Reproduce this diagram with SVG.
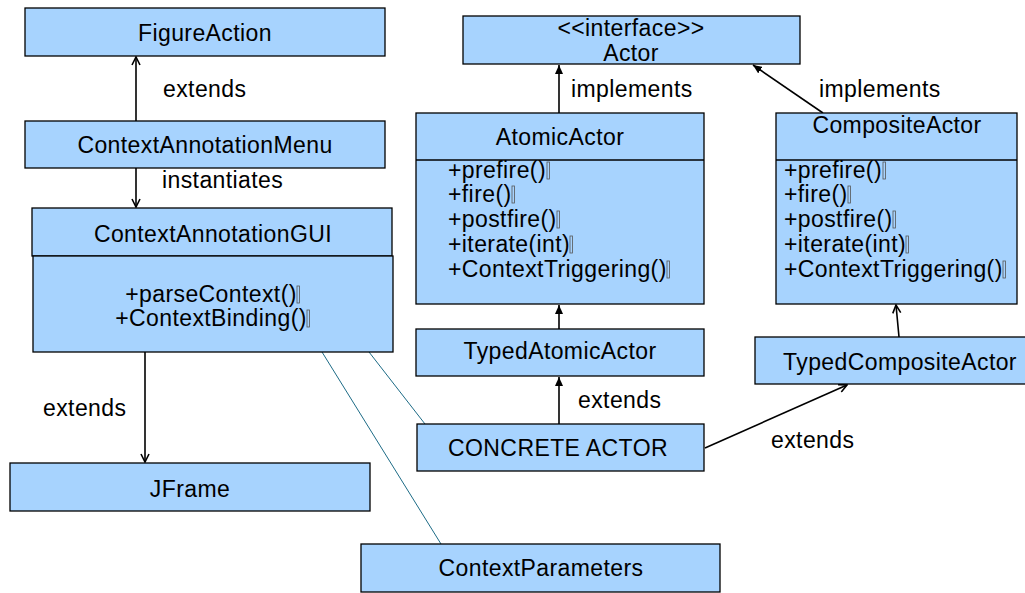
<svg xmlns="http://www.w3.org/2000/svg" width="1025" height="593" viewBox="0 0 1025 593">
  <style>
    .box { fill: #a7d3fe; stroke: #000; stroke-width: 1.3; }
    .sep { stroke: #000; stroke-width: 1.3; fill: none; }
    text { font-family: "Liberation Sans", Arial, sans-serif; font-size: 23px; letter-spacing: 0.4px; fill: #000; }
    .c { text-anchor: middle; }
    .bar { fill: none; stroke: #555; stroke-width: 0.8; }
    .edge { stroke: #000; stroke-width: 1.6; fill: none; }
    .open { marker-end: url(#open); }
    .solid { marker-end: url(#solid); }
    .note { stroke: #1d6b86; stroke-width: 1; fill: none; }
  </style>
  <defs>
    <marker id="open" viewBox="0 0 10 10" refX="9" refY="5" markerWidth="10" markerHeight="10" markerUnits="userSpaceOnUse" orient="auto">
      <path d="M1,1 L9,5 L1,9" fill="none" stroke="#000" stroke-width="1.6"/>
    </marker>
    <marker id="solid" viewBox="0 0 9 8" refX="9" refY="4" markerWidth="9" markerHeight="8" markerUnits="userSpaceOnUse" orient="auto">
      <path d="M0,0 L9,4 L0,8 z" fill="#000"/>
    </marker>
  </defs>

  <!-- connectors -->
  <g id="connectors">
    <path class="edge open" d="M136,121 L136,57"/>
    <path class="edge open" d="M136,168 L136,207"/>
    <path class="edge open" d="M145,352 L145,462"/>
    <path class="edge solid" d="M559,113 L559,65"/>
    <path class="edge solid" d="M823,113 L753,65"/>
    <path class="edge solid" d="M559,329 L559,305"/>
    <path class="edge open" d="M899,337 L896,305"/>
    <path class="edge solid" d="M559,424 L559,377"/>
    <path class="edge open" d="M705,448 L847,385"/>
    <path class="note" d="M322,352 L441,544"/>
    <path class="note" d="M369,352 L425,424"/>
    <text x="163" y="97">extends</text>
    <text x="162" y="188">instantiates</text>
    <text x="571" y="97">implements</text>
    <text x="819" y="97">implements</text>
    <text x="43" y="416">extends</text>
    <text x="578" y="408">extends</text>
    <text x="771" y="448">extends</text>
  </g>

  <g id="FigureAction">
    <rect class="box" x="25" y="8" width="360" height="48"/>
    <text class="c" x="205" y="41">FigureAction</text>
  </g>

  <g id="ContextAnnotationMenu">
    <rect class="box" x="25" y="121" width="360" height="47"/>
    <text class="c" x="205" y="153">ContextAnnotationMenu</text>
  </g>

  <g id="ContextAnnotationGUI">
    <rect class="box" x="32" y="208" width="360" height="48"/>
    <rect class="box" x="33" y="256" width="360" height="96"/>
    <text class="c" x="213" y="242">ContextAnnotationGUI</text>
    <text class="c" x="211" y="302">+parseContext()</text>
    <rect class="bar" x="297" y="286" width="2.5" height="17"/>
    <text class="c" x="211" y="326">+ContextBinding()</text>
    <rect class="bar" x="307" y="310" width="2.5" height="17"/>
  </g>

  <g id="JFrame">
    <rect class="box" x="10" y="463" width="360" height="48"/>
    <text class="c" x="190" y="497">JFrame</text>
  </g>

  <g id="Actor">
    <rect class="box" x="463" y="16" width="337" height="48"/>
    <text class="c" x="631" y="36">&lt;&lt;interface&gt;&gt;</text>
    <text class="c" x="631" y="61">Actor</text>
  </g>

  <g id="AtomicActor">
    <rect class="box" x="416" y="113" width="288" height="191"/>
    <line class="sep" x1="416" y1="160" x2="704" y2="160"/>
    <text class="c" x="560" y="145">AtomicActor</text>
    <text x="448" y="178">+prefire()</text>
    <rect class="bar" x="547" y="162" width="2.5" height="17"/>
    <text x="448" y="202">+fire()</text>
    <rect class="bar" x="512" y="186" width="2.5" height="17"/>
    <text x="448" y="227">+postfire()</text>
    <rect class="bar" x="557" y="211" width="2.5" height="17"/>
    <text x="448" y="252">+iterate(int)</text>
    <rect class="bar" x="570" y="236" width="2.5" height="17"/>
    <text x="448" y="277">+ContextTriggering()</text>
    <rect class="bar" x="667" y="261" width="2.5" height="17"/>
  </g>

  <g id="CompositeActor">
    <rect class="box" x="776" y="113" width="241" height="191"/>
    <line class="sep" x1="776" y1="160" x2="1017" y2="160"/>
    <text class="c" x="897" y="133">CompositeActor</text>
    <text x="784" y="178">+prefire()</text>
    <rect class="bar" x="883" y="162" width="2.5" height="17"/>
    <text x="784" y="202">+fire()</text>
    <rect class="bar" x="848" y="186" width="2.5" height="17"/>
    <text x="784" y="227">+postfire()</text>
    <rect class="bar" x="893" y="211" width="2.5" height="17"/>
    <text x="784" y="252">+iterate(int)</text>
    <rect class="bar" x="906" y="236" width="2.5" height="17"/>
    <text x="784" y="277">+ContextTriggering()</text>
    <rect class="bar" x="1003" y="261" width="2.5" height="17"/>
  </g>

  <g id="TypedAtomicActor">
    <rect class="box" x="416" y="329" width="288" height="47"/>
    <text class="c" x="560" y="359">TypedAtomicActor</text>
  </g>

  <g id="TypedCompositeActor">
    <rect class="box" x="755" y="337" width="280" height="47"/>
    <text class="c" x="900" y="370">TypedCompositeActor</text>
  </g>

  <g id="ConcreteActor">
    <rect class="box" x="417" y="424" width="287" height="47"/>
    <text class="c" x="558" y="456">CONCRETE ACTOR</text>
  </g>

  <g id="ContextParameters">
    <rect class="box" x="361" y="544" width="359" height="48"/>
    <text class="c" x="541" y="576">ContextParameters</text>
  </g>
</svg>
